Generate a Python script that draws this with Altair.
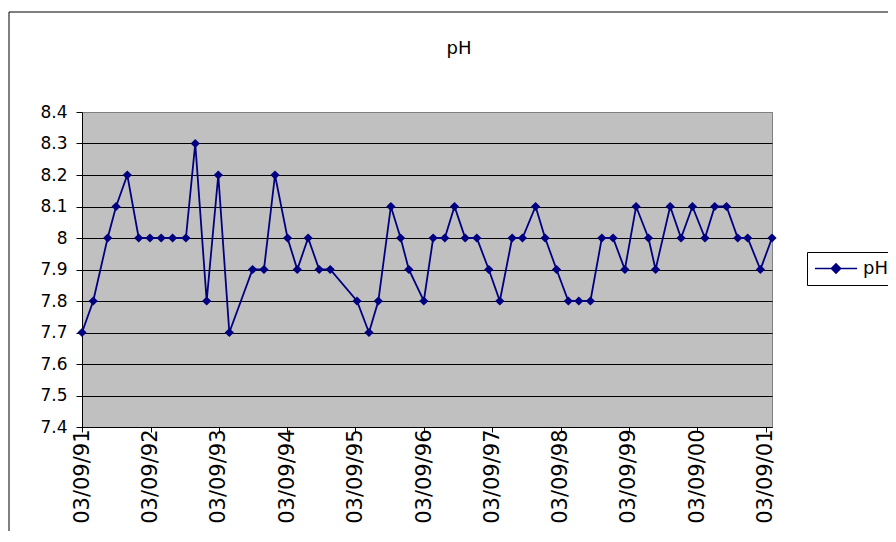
import altair as alt
import pandas as pd

# ---- data ----
dates = [
    "1991-09-03", "1991-11-02", "1992-01-18", "1992-03-03", "1992-05-02", "1992-07-02",
    "1992-08-31", "1992-10-30", "1992-12-30", "1993-03-11", "1993-04-30", "1993-06-30",
    "1993-08-31", "1993-10-29", "1994-03-02", "1994-05-02", "1994-06-30", "1994-09-05",
    "1994-10-27", "1994-12-24", "1995-02-21", "1995-04-21", "1995-09-11", "1995-11-14",
    "1996-01-03", "1996-03-10", "1996-05-01", "1996-06-14", "1996-09-02", "1996-10-22",
    "1996-12-23", "1997-02-13", "1997-04-11", "1997-06-12", "1997-08-15", "1997-10-13",
    "1997-12-18", "1998-02-11", "1998-04-22", "1998-06-12", "1998-08-12", "1998-10-14",
    "1998-12-09", "1999-02-09", "1999-04-11", "1999-06-10", "1999-08-12", "1999-10-11",
    "1999-12-16", "2000-01-23", "2000-04-10", "2000-06-07", "2000-08-07", "2000-10-13",
    "2000-12-04", "2001-02-05", "2001-04-06", "2001-05-29", "2001-08-05", "2001-10-06",
]
ph_values = [
    7.7, 7.8, 8.0, 8.1, 8.2, 8.0,
    8.0, 8.0, 8.0, 8.0, 8.3, 7.8,
    8.2, 7.7, 7.9, 7.9, 8.2, 8.0,
    7.9, 8.0, 7.9, 7.9, 7.8, 7.7,
    7.8, 8.1, 8.0, 7.9, 7.8, 8.0,
    8.0, 8.1, 8.0, 8.0, 7.9, 7.8,
    8.0, 8.0, 8.1, 8.0, 7.9, 7.8,
    7.8, 7.8, 8.0, 8.0, 7.9, 8.1,
    8.0, 7.9, 8.1, 8.0, 8.1, 8.0,
    8.1, 8.1, 8.0, 8.0, 7.9, 8.0,
]
series_name = "pH"
tick_years = list(range(1991, 2002))
y_ticks = [7.4, 7.5, 7.6, 7.7, 7.8, 7.9, 8.0, 8.1, 8.2, 8.3, 8.4]

df = pd.DataFrame({"date": dates, "pH": ph_values, "series": [series_name] * len(dates)})

NAVY = "#000080"
FONT = "DejaVu Sans"


def dt(ts):
    t = pd.Timestamp(ts)
    return alt.DateTime(year=t.year, month=t.month, date=t.day, utc=True)


x_enc = alt.X(
    "date:T",
    title=None,
    scale=alt.Scale(type="utc", domain=[dt(dates[0]), dt(dates[-1])], nice=False),
    axis=alt.Axis(
        values=[alt.DateTime(year=y, month=9, date=3, utc=True) for y in tick_years],
        format="%d/%m/%y",
        labelAngle=270,
        labelFont=FONT,
        labelFontSize=21,
        labelColor="black",
        labelPadding=-3,
        tickSize=5,
        tickColor="black",
        domainColor="black",
        grid=False,
        labelOverlap=False,
    ),
)
y_enc = alt.Y(
    "pH:Q",
    title=None,
    scale=alt.Scale(domain=[7.4, 8.4], nice=False, zero=False),
    axis=alt.Axis(
        values=y_ticks,
        format="~g",
        labelFont=FONT,
        labelFontSize=17,
        labelColor="black",
        labelPadding=9,
        tickSize=6,
        tickColor="black",
        domainColor="black",
        grid=True,
        gridColor={"condition": {"test": "datum.value > 8.35", "value": "#808080"}, "value": "black"},
        gridOpacity=1,
        gridWidth=1,
    ),
)

legend = alt.Legend(
    title=None,
    orient="none",
    legendX=725,
    legendY=140,
    direction="vertical",
    symbolType="M-1,0L1,0M0,-0.22L0.22,0L0,0.22L-0.22,0Z",
    symbolSize=1764,
    symbolStrokeWidth=1.5,
    symbolFillColor=NAVY,
    symbolStrokeColor=NAVY,
    labelFont=FONT,
    labelFontSize=18,
    labelColor="black",
    labelOffset=5,
    padding=7,
    strokeColor="black",
    fillColor="white",
    clipHeight=19,
)

frame = alt.Chart(pd.DataFrame({"f": [0]})).mark_rect(
    fill="white", fillOpacity=0, stroke="black", strokeWidth=1, clip=False
).encode(x=alt.value(-73), x2=alt.value(900), y=alt.value(-100), y2=alt.value(520))

line = alt.Chart(df).mark_line(strokeWidth=1.8).encode(
    x=x_enc,
    y=y_enc,
    color=alt.Color("series:N", scale=alt.Scale(domain=[series_name], range=[NAVY]), legend=legend),
)

points = alt.Chart(df).mark_point(
    shape="diamond", filled=True, size=85, color=NAVY, opacity=1
).encode(x=x_enc, y=y_enc)

chart = alt.layer(frame, line, points).properties(
    width=690,
    height=315,
    autosize=alt.AutoSizeParams(type="none"),
    padding={"left": 74, "top": 104, "right": 116, "bottom": 104},
    title=alt.Title(
        "pH", font=FONT, fontSize=18, fontWeight="normal", color="black",
        anchor="middle", dx=32, offset=-46,
    ),
).configure(
    background="white"
).configure_view(
    stroke="#808080", fill="#C0C0C0", strokeWidth=1
)

chart.save("out.html", embed_options={"renderer": "svg", "actions": False})
